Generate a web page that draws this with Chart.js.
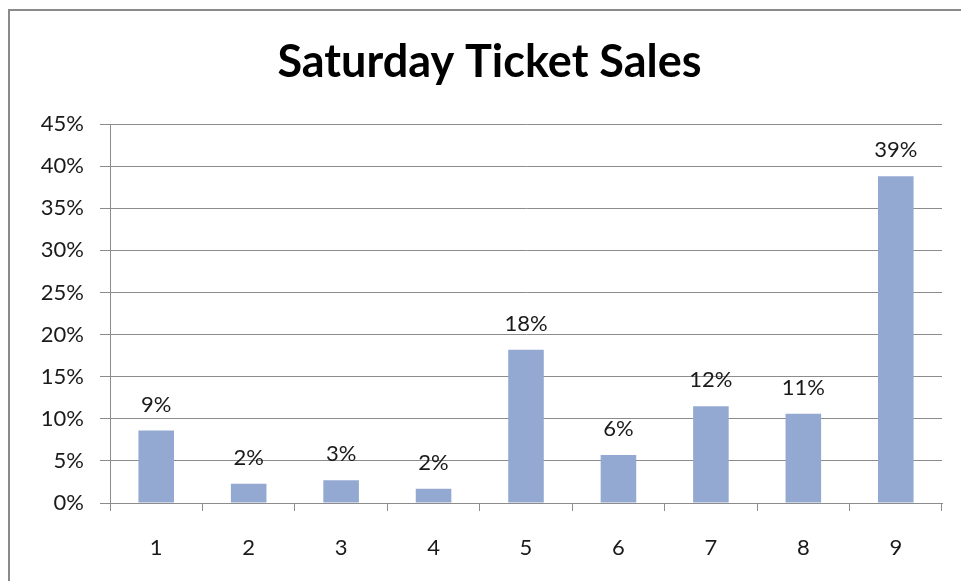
<!DOCTYPE html>
<html>
<head>
<meta charset="utf-8">
<title>Saturday Ticket Sales</title>
<script src="https://cdn.jsdelivr.net/npm/chart.js@4.4.1/dist/chart.umd.min.js"></script>
<style>
  html, body { margin: 0; padding: 0; background: #ffffff; overflow: hidden; }
  #wrap { position: relative; width: 961px; height: 581px; overflow: hidden; }
  #frame {
    position: absolute; left: 8px; top: 9px; width: 980px; height: 600px;
    border: 2px solid #8a8a8a; box-sizing: border-box; pointer-events: none;
  }
  canvas { position: absolute; left: 0; top: 0; }
</style>
</head>
<body>
<div id="wrap">
  <canvas id="chart" width="961" height="581"></canvas>
  <div id="frame"></div>
</div>
<script>
// categories (bin numbers) and share of Saturday tickets, in percent
const categories = ['1', '2', '3', '4', '5', '6', '7', '8', '9']
const salesShare = [8.6, 2.3, 2.7, 1.7, 18.2, 5.7, 11.5, 10.6, 38.8]
const yTickMax = 45
const yTickStep = 5

const barColor = '#94a9d1'
const gridColor = '#8c8c8c'
const textColor = '#1a1a1a'
const fontFamily = 'Lato, "Open Sans", sans-serif'

// draws the rounded value above each bar
const valueLabels = {
  id: 'valueLabels',
  afterDatasetsDraw(chart) {
    const ctx = chart.ctx
    const meta = chart.getDatasetMeta(0)
    const values = chart.data.datasets[0].data
    ctx.save()
    ctx.font = '22px ' + fontFamily
    ctx.fillStyle = textColor
    ctx.textAlign = 'center'
    ctx.textBaseline = 'middle'
    meta.data.forEach((bar, i) => {
      ctx.fillText(Math.round(values[i]) + '%', bar.x, bar.y - 26)
    })
    ctx.restore()
  }
}

const ctx = document.getElementById('chart').getContext('2d')

new Chart(ctx, {
  type: 'bar',
  data: {
    labels: categories,
    datasets: [{
      data: salesShare,
      backgroundColor: barColor,
      borderWidth: 0,
      barPercentage: 0.385,
      categoryPercentage: 1
    }]
  },
  options: {
    responsive: false,
    animation: false,
    layout: {
      padding: { left: 37, right: 19, top: 0, bottom: 0 }
    },
    plugins: {
      legend: { display: false },
      tooltip: { enabled: false },
      title: {
        display: true,
        text: 'Saturday Ticket Sales',
        color: '#000000',
        font: { family: fontFamily, size: 45, weight: 'bold', lineHeight: 1.2 },
        padding: { top: 35, bottom: 35 }
      }
    },
    scales: {
      y: {
        min: 0,
        max: yTickMax,
        afterFit(axis) { axis.width = 73 },
        ticks: {
          stepSize: yTickStep,
          color: textColor,
          padding: 16,
          font: { family: fontFamily, size: 22 },
          callback: function(value) { return value + '%' }
        },
        grid: {
          color: gridColor,
          lineWidth: 1,
          tickLength: 10
        },
        border: { display: true, color: gridColor, width: 1 }
      },
      x: {
        afterFit(axis) { axis.height = 581 - 503 },
        ticks: {
          color: textColor,
          padding: 24,
          font: { family: fontFamily, size: 22 }
        },
        grid: {
          offset: true,
          drawOnChartArea: false,
          color: gridColor,
          tickLength: 8
        },
        border: { display: true, color: gridColor, width: 1 }
      }
    }
  },
  plugins: [valueLabels]
})
</script>
</body>
</html>
